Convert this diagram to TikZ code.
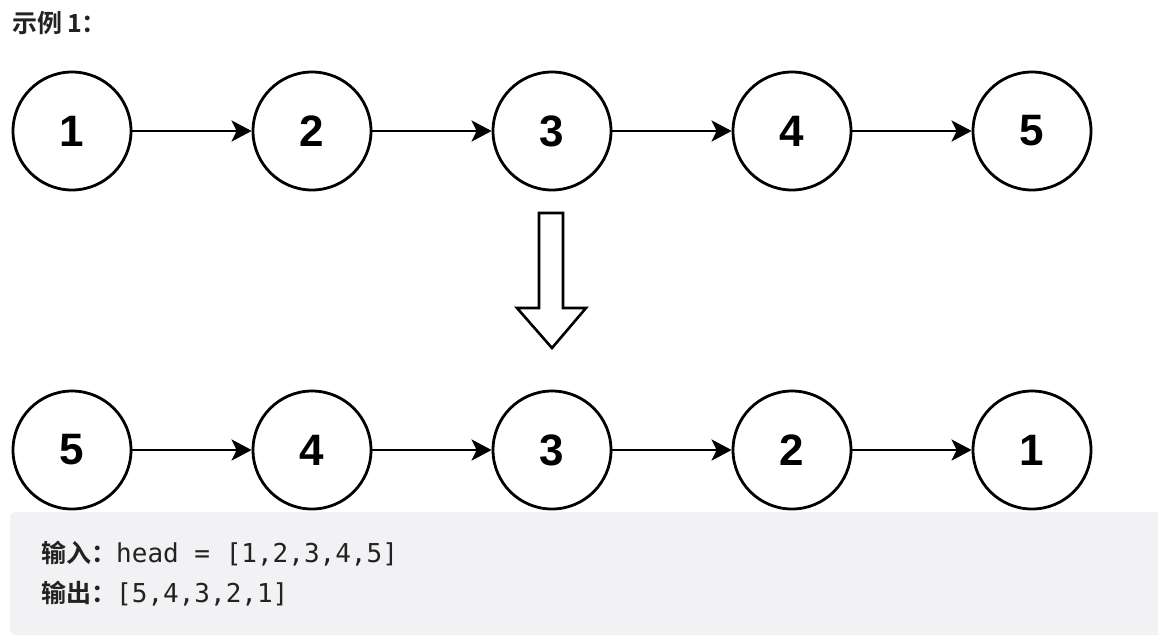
\documentclass[tikz,border=0pt]{standalone}
\usepackage{fontspec}
\setmainfont{Liberation Sans}
\newfontfamily\cjkb{Noto Sans CJK SC Bold}
\newfontfamily\monof{DejaVu Sans Mono}
\usetikzlibrary{arrows.meta}
\definecolor{txt}{HTML}{222222}
\definecolor{boxbg}{HTML}{F2F2F4}
\begin{document}
\begin{tikzpicture}[x=1pt,y=-1pt,
  lnode/.style={circle,draw=black,line width=2.8pt,minimum size=118pt,inner sep=0pt,
    font=\fontsize{44}{44}\selectfont\bfseries},
  link/.style={line width=2.8pt,-{Stealth[length=20pt,width=21pt,inset=5pt]}},
  bigarrow/.style={draw=black,line width=2.6pt,fill=white,line join=miter},
  codetxt/.style={anchor=base west,inner sep=0pt,text=txt}]
\useasboundingbox (0,0) rectangle (1158,642);
\fill[white] (0,0) rectangle (1158,642);
% title
\node[codetxt] (title) at (12,33) {\fontsize{25}{25}\selectfont\cjkb 示例\hspace{5pt}1：};
% top row
\foreach \n/\x in {1/72,2/312,3/552,4/792,5/1032}
  \node[lnode] (t\n) at (\x,131) {\n};
\foreach \a/\b in {1/2,2/3,3/4,4/5}
  \draw[link] (t\a) -- (t\b);
% big arrow
\draw[bigarrow] (539,213) -- (563,213) -- (563,308) -- (586,308) -- (552,348)
  -- (517,308) -- (539,308) -- cycle;
% grey box
\fill[boxbg,rounded corners=5pt] (10,512) rectangle (1175,635);
% bottom row
\foreach \i/\n/\x in {1/5/72,2/4/312,3/3/552,4/2/792,5/1/1032}
  \node[lnode] (b\i) at (\x,450) {\n};
\foreach \a/\b in {1/2,2/3,3/4,4/5}
  \draw[link] (b\a) -- (b\b);
% code text
\node[codetxt] (in) at (41,562) {{\fontsize{25}{25}\selectfont\cjkb 输入：}{\fontsize{26}{26}\selectfont\monof head = [1,2,3,4,5]}};
\node[codetxt] (out) at (41,602) {{\fontsize{25}{25}\selectfont\cjkb 输出：}{\fontsize{26}{26}\selectfont\monof [5,4,3,2,1]}};
\end{tikzpicture}
\end{document}
